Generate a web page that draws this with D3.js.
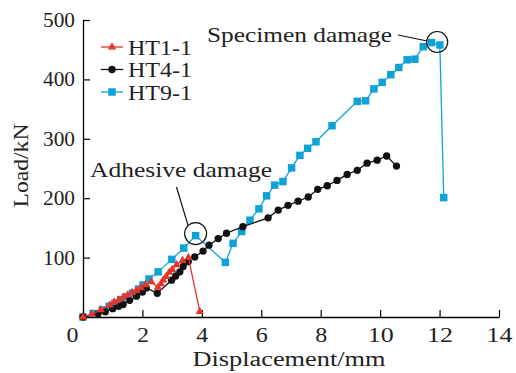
<!DOCTYPE html>
<html>
<head>
<meta charset="utf-8">
<script src="https://cdn.jsdelivr.net/npm/d3@7"></script>
<style>
  html, body { margin: 0; padding: 0; background: #fff; }
  svg { display: block; }
</style>
</head>
<body>
<div id="chart"></div>
<script>
// data: [displacement mm, load kN]
const ht1 = [[0,0],[0.3,5],[0.6,12],[0.9,20],[1.05,25],[1.2,29],[1.35,33],[1.5,37],[1.65,41],[1.8,45],[1.95,49],[2.1,54],[2.3,59],[2.52,50],[2.62,56],[2.7,62],[2.8,68],[2.9,75],[3.0,80],[3.15,88],[3.35,95],[3.55,100],[3.93,9]];
const ht4 = [[0,0],[0.5,5],[0.75,9],[1.0,14],[1.2,18],[1.35,21],[1.57,28],[1.8,35],[2.0,42],[2.13,49],[2.5,40],[2.98,62],[3.12,69],[3.26,76],[3.37,85],[3.54,93],[3.76,101],[4.04,111],[4.24,121],[4.55,132],[4.83,141],[5.38,152],[6.23,167],[6.57,180],[6.9,188],[7.24,195],[7.58,202],[7.9,215],[8.22,221],[8.55,230],[8.89,240],[9.23,247],[9.56,259],[9.9,264],[10.22,271],[10.55,254]];
const ht9 = [[0,0],[0.34,6],[0.65,12],[0.88,18],[1.07,23],[1.27,29],[1.46,34],[1.66,40],[1.87,47],[2.02,54],[2.22,64],[2.53,76],[2.99,97],[3.39,116],[3.79,137],[4.79,92],[5.05,124],[5.34,144],[5.62,163],[5.92,182],[6.18,204],[6.45,222],[6.73,228],[7.02,251],[7.3,272],[7.56,284],[7.84,295],[8.38,322],[9.23,363],[9.51,364],[9.79,384],[10.07,395],[10.36,408],[10.63,420],[10.91,433],[11.17,434],[11.45,455],[11.73,462],[12.01,458],[12.14,201]];

const seriesNames = ["HT1-1", "HT4-1", "HT9-1"];
const xTicks = [0, 2, 4, 6, 8, 10, 12, 14];
const yTicks = [100, 200, 300, 400, 500];
const notes = [
  { text: "Adhesive damage", at: [3.79, 137] },
  { text: "Specimen damage", at: [11.92, 463] }
];

const width = 516, height = 373;
const margin = { top: 20, right: 17, bottom: 56, left: 83 };
const font = "Liberation Serif, DejaVu Serif, serif";
const colors = ["#e2352b", "#111111", "#0ea2d6"];

const x = d3.scaleLinear().domain([0, 14]).range([margin.left, width - margin.right]);
const y = d3.scaleLinear().domain([0, 500]).range([height - margin.bottom, margin.top]);

const svg = d3.select("#chart").append("svg")
  .attr("width", width)
  .attr("height", height)
  .attr("font-family", font);

// axes, ticks pointing inward
svg.append("g")
  .attr("transform", `translate(0,${y(0)})`)
  .call(d3.axisBottom(x).tickValues(xTicks).tickSizeInner(-7).tickSizeOuter(0).tickPadding(11).tickFormat(d3.format("d")))
  .attr("font-family", font)
  .attr("font-size", 20)
  .call(g => g.select(".domain").attr("stroke-width", 1.3))
  .call(g => g.selectAll(".tick line").attr("stroke-width", 1.2))
  .call(g => g.selectAll(".tick text").attr("fill", "#222").attr("textLength", d => d >= 10 ? 26 : 12).attr("lengthAdjust", "spacingAndGlyphs"))
  .call(g => g.selectAll(".tick text").filter(d => d === 0).attr("dx", -11));

svg.append("g")
  .attr("transform", `translate(${x(0)},0)`)
  .call(d3.axisLeft(y).tickValues(yTicks).tickSizeInner(-7).tickSizeOuter(0).tickPadding(8))
  .attr("font-family", font)
  .attr("font-size", 20)
  .call(g => g.select(".domain").attr("stroke-width", 1.3))
  .call(g => g.selectAll(".tick line").attr("stroke-width", 1.2))
  .call(g => g.selectAll(".tick text").attr("fill", "#222").attr("textLength", 32).attr("lengthAdjust", "spacingAndGlyphs"));

svg.append("text")
  .attr("x", (x(0) + x(14)) / 2 - 2)
  .attr("y", 366)
  .attr("text-anchor", "middle")
  .attr("font-size", 20)
  .attr("fill", "#222")
  .attr("textLength", 193)
  .attr("lengthAdjust", "spacingAndGlyphs")
  .text("Displacement/mm");

svg.append("text")
  .attr("transform", `translate(28,${(y(0) + y(500)) / 2 - 3}) rotate(-90)`)
  .attr("text-anchor", "middle")
  .attr("font-size", 22)
  .attr("fill", "#222")
  .attr("textLength", 84)
  .attr("lengthAdjust", "spacingAndGlyphs")
  .text("Load/kN");

const line = d3.line().x(d => x(d[0])).y(d => y(d[1]));
const tri = d3.symbol().type(d3.symbolTriangle).size(30);
const sq = d3.symbol().type(d3.symbolSquare).size(56);
const dot = d3.symbol().type(d3.symbolCircle).size(42);
const shapes = [tri, dot, sq];
const all = [ht1, ht4, ht9];

// draw HT9 under, HT4, then HT1 on top like the picture
[2, 1, 0].forEach(i => {
  const g = svg.append("g");
  g.append("path")
    .datum(all[i])
    .attr("fill", "none")
    .attr("stroke", colors[i])
    .attr("stroke-width", 1.3)
    .attr("d", line);
  g.selectAll("path.m")
    .data(all[i])
    .join("path")
    .attr("class", "m")
    .attr("transform", d => `translate(${x(d[0])},${y(d[1])})`)
    .attr("fill", colors[i])
    .attr("d", shapes[i]);
});

// legend
const legend = svg.append("g").attr("transform", "translate(101,47)");
seriesNames.forEach((name, i) => {
  const row = legend.append("g").attr("transform", `translate(0,${i * 22.5})`);
  row.append("line").attr("x1", 0).attr("x2", 22).attr("stroke", colors[i]).attr("stroke-width", 1.3);
  row.append("path").attr("transform", "translate(11,0)").attr("fill", colors[i]).attr("d", shapes[i]);
  row.append("text").attr("x", 27).attr("dy", "0.35em").attr("font-size", 22).attr("fill", "#222")
    .attr("textLength", 64).attr("lengthAdjust", "spacingAndGlyphs").text(name);
});

// annotations
const ann = svg.append("g").attr("fill", "none").attr("stroke", "#111").attr("stroke-width", 1.2);
const a0 = notes[0], a1 = notes[1];
ann.append("circle").attr("cx", x(a0.at[0])).attr("cy", y(a0.at[1]) - 2).attr("r", 11);
ann.append("line").attr("x1", 176.5).attr("y1", 187).attr("x2", x(a0.at[0]) - 7.5).attr("y2", y(a0.at[1]) - 10);
ann.append("circle").attr("cx", x(a1.at[0])).attr("cy", y(a1.at[1])).attr("r", 10.5);
ann.append("line").attr("x1", 398).attr("y1", 35).attr("x2", x(a1.at[0]) - 10).attr("y2", y(a1.at[1]) - 1);

svg.append("text").attr("x", 90).attr("y", 177).attr("font-size", 22).attr("fill", "#222")
  .attr("textLength", 182).attr("lengthAdjust", "spacingAndGlyphs").text(a0.text);
svg.append("text").attr("x", 207).attr("y", 42).attr("font-size", 22).attr("fill", "#222")
  .attr("textLength", 185).attr("lengthAdjust", "spacingAndGlyphs").text(a1.text);
</script>
</body>
</html>
